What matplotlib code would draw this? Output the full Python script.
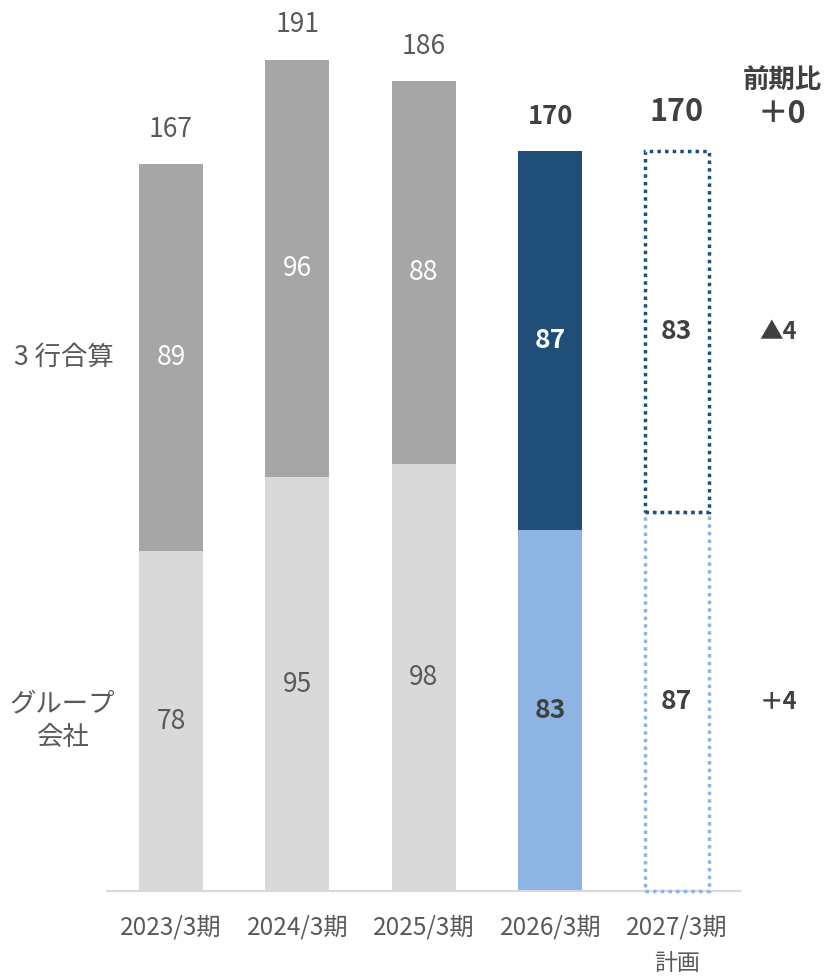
import matplotlib
matplotlib.use("Agg")
import matplotlib.pyplot as plt
from matplotlib.transforms import blended_transform_factory

plt.rcParams['font.family'] = ['Noto Sans CJK JP', 'DejaVu Sans']

categories = ["2023/3期", "2024/3期", "2025/3期", "2026/3期", "2027/3期"]
group_co = [78, 95, 98, 83, 87]      # グループ会社 (bottom)
three_banks = [89, 96, 88, 87, 83]   # 3行合算 (top)
totals = [167, 191, 186, 170, 170]
changes_total = "＋0"
change_top = "▲4"
change_bottom = "＋4"

GRAY_TXT = "#595959"
DARK_TXT = "#404040"

fig = plt.figure(figsize=(8.27, 9.77), dpi=100)
ax = fig.add_axes([107/827, 86/977, 633/827, 870.6/977])
x = list(range(len(categories)))
w = 0.506

bot_colors = ["#D9D9D9", "#D9D9D9", "#D9D9D9", "#8DB4E2"]
top_colors = ["#A6A6A6", "#A6A6A6", "#A6A6A6", "#1F4E79"]

for i in range(4):
    ax.bar(x[i], group_co[i], width=w, color=bot_colors[i], linewidth=0)
    ax.bar(x[i], three_banks[i], bottom=group_co[i], width=w, color=top_colors[i], linewidth=0)

# plan bars: dotted outlines
dot = (0, (1, 1.2))
b1 = ax.bar(x[4], group_co[4], width=w, facecolor="none", edgecolor="#8DB4E2",
            linewidth=2.5, linestyle=dot, zorder=3)
b2 = ax.bar(x[4], three_banks[4], bottom=group_co[4], width=w, facecolor="none",
            edgecolor="#1F4E79", linewidth=2.5, linestyle=dot, zorder=4)
for p in list(b1) + list(b2):
    p.set_clip_on(False)

ax.set_xlim(-0.506, 4.5)
ax.set_ylim(0, 200)
for s in ["top", "right", "left"]:
    ax.spines[s].set_visible(False)
ax.spines["bottom"].set_color("#D9D9D9")
ax.spines["bottom"].set_linewidth(1.5)
ax.set_yticks([])
ax.set_xticks(x)
ax.set_xticklabels(categories, fontsize=17.5, color=GRAY_TXT)
ax.tick_params(axis="x", length=0, pad=17)
ax.text(4, -16.7, "計画", ha="center", va="center", fontsize=16.5, color=GRAY_TXT)

# segment labels
for i in range(5):
    if i < 3:
        fw, fs, ts = "normal", 19, 19
        c_bot, c_top, c_tot = GRAY_TXT, "white", GRAY_TXT
    elif i == 3:
        fw, fs, ts = "bold", 19, 18.5
        c_bot, c_top, c_tot = DARK_TXT, "white", DARK_TXT
    else:
        fw, fs, ts = "bold", 19, 22
        c_bot, c_top, c_tot = DARK_TXT, DARK_TXT, DARK_TXT
    ax.text(x[i], group_co[i] / 2, str(group_co[i]), ha="center", va="center",
            fontsize=fs, color=c_bot, fontweight=fw)
    ax.text(x[i], group_co[i] + three_banks[i] / 2, str(three_banks[i]), ha="center",
            va="center", fontsize=fs, color=c_top, fontweight=fw)
    off = 28 if i == 4 else 25
    ax.annotate(str(totals[i]), (x[i], totals[i]), xytext=(0, off),
                textcoords="offset points", ha="center", va="center",
                fontsize=ts, color=c_tot, fontweight=fw, annotation_clip=False)

# left labels
tl = blended_transform_factory(fig.transFigure, ax.transData)
ax.text(64/827, group_co[0] + three_banks[0] / 2, "3 行合算", transform=tl,
        ha="center", va="center", fontsize=19, color=GRAY_TXT)
ax.text(62/827, group_co[0] / 2, "グループ\n会社", transform=tl,
        ha="center", va="center", fontsize=19, color=GRAY_TXT, linespacing=1.25)

# right column
fig.text(782/827, 1 - 80/977, "前期比", ha="center", va="center",
         fontsize=19, color=DARK_TXT, fontweight="bold")
fig.text(782/827, 1 - 114/977, changes_total, ha="center", va="center",
         fontsize=22, color=DARK_TXT, fontweight="bold")
ax.text(778/827, group_co[4] + three_banks[4] / 2, change_top, transform=tl,
        ha="center", va="center", fontsize=17, color=DARK_TXT, fontweight="bold")
ax.text(778/827, group_co[4] / 2, change_bottom, transform=tl,
        ha="center", va="center", fontsize=17, color=DARK_TXT, fontweight="bold")

fig.savefig("out.png", dpi=100)
